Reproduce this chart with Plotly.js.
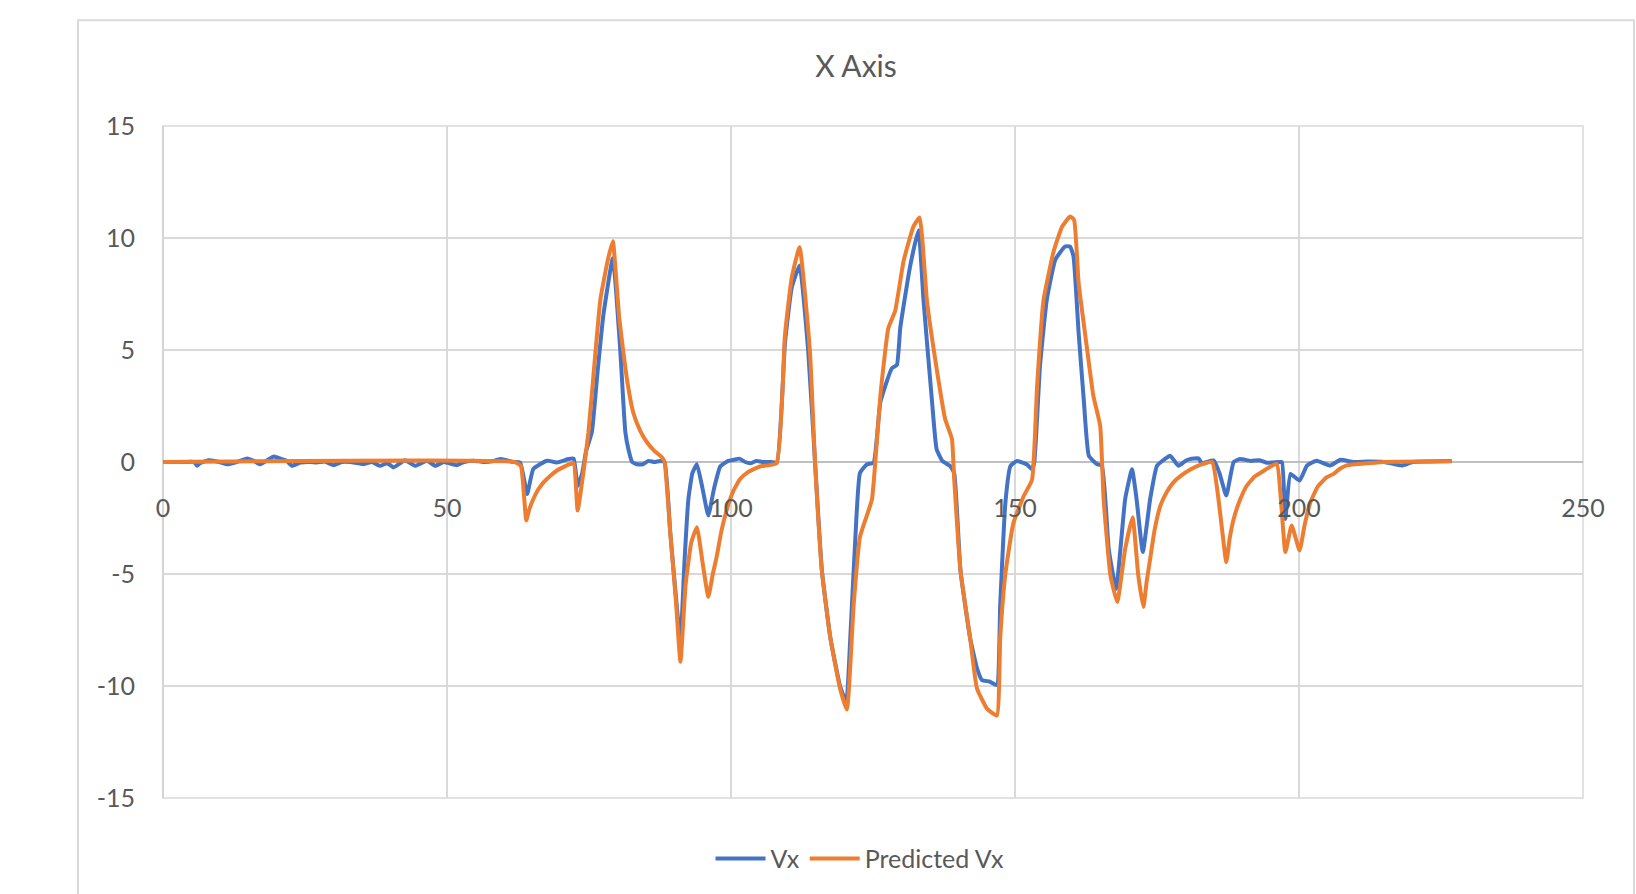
<!DOCTYPE html>
<html>
<head>
<meta charset="utf-8">
<script src="https://cdn.plot.ly/plotly-3.0.1.min.js"></script>
<style>html,body{margin:0;padding:0;background:#fff;}#chart{width:1636px;height:894px;}</style>
</head>
<body>
<div id="chart"></div>
<script>
// Series 1: Vx (measured)
const tVx = [0,2,4,5.5,6.0,6.5,8.0,9.5,11.25,13,14.8,16,17.1,18.5,19.5,20.9,21.8,22.7,24.2,26,27.1,28.5,30.0,31.5,33.0,35.3,36.8,38.2,39.5,40.6,42.6,44.4,46.5,47.9,49.4,51.7,53,54.7,56.4,58,59.4,61.7,62.9,64.1,65.2,67.6,69.3,71.4,72.3,73.0,73.8,74.5,75.5,76.5,77.5,79.2,80.5,81.4,82.0,82.6,83.5,84.5,85.5,86.5,87.5,88.3,89.3,90.3,91.1,91.8,92.5,93.2,94.0,95.0,96.0,97.0,98.1,99.5,100.5,101.5,102.5,103.5,104.5,105.5,107,108.07,109.5,110.7,112.07,113.6,114.8,116.0,117.5,119.2,120.3,121.0,121.9,122.7,123.9,125.1,126.3,128.3,129.2,129.8,131.5,133.0,133.9,135.4,136.2,137.2,138.6,139.3,140.4,142.1,143.3,144.2,145.5,146.8,147.4,148.3,149.2,150.3,152.1,153.0,153.4,154.4,155.6,157.1,158.8,159.7,160.3,161.2,162.1,163.0,164.4,165.3,166.5,167.8,169.4,170.6,171.4,172.5,173.8,175.0,176.2,177.3,178.8,180.0,180.8,182.3,182.9,185.0,186.0,187.2,188.5,189.6,191.5,193,194.3,196.4,197.0,197.6,198.5,200.1,201.4,203.1,205.5,207.3,209.6,212,215,218.1,220,223,226.9];
const vx = [0,0,0,0,-0.17,-0.05,0.08,0.02,-0.1,0.0,0.16,0.05,-0.1,0.1,0.25,0.13,0.05,-0.17,-0.02,0.0,-0.02,0.02,-0.14,0.0,0.0,-0.1,0.0,-0.17,-0.05,-0.24,0.08,-0.17,0.06,-0.17,0.0,-0.14,0.0,0.06,0.0,0.03,0.13,0.0,-0.03,-1.43,-0.31,0.06,-0.02,0.13,0.15,-1.08,-0.5,0.5,1.33,4.0,6.5,9.1,5.0,1.33,0.5,0.0,-0.1,-0.1,0.05,0.0,0.05,0.0,-3.13,-6.0,-8.03,-4.5,-1.65,-0.5,-0.1,-1.2,-2.39,-1.2,-0.2,0.05,0.1,0.15,0.0,-0.05,0.05,0.0,0.0,-0.03,5.3,7.8,8.77,4.93,-0.03,-4.85,-7.86,-10.0,-10.72,-7.86,-3.34,-0.49,-0.11,-0.03,2.67,4.18,4.33,5.98,8.69,10.35,7.19,2.67,0.57,0.05,-0.18,-0.5,-4.85,-7.86,-9.2,-9.74,-9.8,-9.96,-6.35,-1.84,-0.18,0.04,-0.11,-0.33,0.0,4.28,7.25,9.03,9.62,9.62,9.18,5.77,2.8,0.28,-0.09,-0.17,-3.88,-5.66,-1.65,-0.32,-1.65,-4.02,-1.65,-0.17,0.1,0.28,-0.17,0.05,0.13,0.16,-0.05,0.07,-0.5,-1.5,0.0,0.13,0.05,0.08,-0.03,0.0,0.0,-2.54,-0.53,-0.83,-0.16,0.06,-0.16,0.1,0.0,0.02,0.0,-0.16,0.0,0.02,0.05];

// Series 2: Predicted Vx
const tPred = [0,61.9,63.0,63.95,64.5,65.2,66,67,68.2,69.3,70.4,71.4,72.3,73.0,74.0,74.9,76.0,77.0,78.3,79.2,79.7,80.3,81.0,81.8,82.8,84.0,85.2,86.5,87.8,88.3,89.3,90.3,91.1,92.0,93.0,94.0,95.0,96.0,96.8,97.5,98.3,99.3,100.4,101.6,103,105.1,108.0,109.5,110.7,112.07,113.9,114.8,116.0,117.5,119.2,120.4,121.6,122.7,124.8,125.4,126.3,127.7,128.9,130.4,132.1,133.2,134.5,136.2,137.7,138.9,139.3,140.4,142.1,143.3,145.1,146.8,147.4,148.3,149.7,151.5,153.0,153.9,155.0,156.8,158.3,159.7,160.4,161.2,162.7,163.8,165.0,165.6,166.8,168.0,169.4,170.7,171.7,172.6,173.2,173.8,174.6,175.6,176.7,177.9,179.3,180.8,182.7,184.7,187.2,187.8,188.5,189.6,190.8,192.2,193.8,195,196.1,197.6,198.7,200.1,201,202.0,203.3,204.9,206.1,207.2,208.4,210,212.0,215,226.9];
const pred = [0,0,-0.17,-2.61,-2.1,-1.65,-1.25,-0.91,-0.61,-0.39,-0.24,-0.12,-0.05,-2.17,-0.5,1.33,4.5,7.25,9.0,9.85,8.5,6.5,5.0,3.5,2.2,1.4,0.88,0.5,0.22,0.0,-3.13,-6.2,-8.92,-5.5,-3.6,-2.91,-4.5,-6.02,-5.0,-4.2,-3.1,-2.09,-1.3,-0.76,-0.45,-0.2,-0.05,5.68,8.24,9.59,4.93,-0.03,-4.85,-7.86,-10.11,-11.05,-6.35,-3.34,-1.69,-0.03,2.97,5.98,6.74,8.99,10.5,10.92,7.19,4.18,1.92,1.02,-0.79,-4.85,-7.86,-10.11,-11.02,-11.32,-7.86,-5.0,-2.74,-1.54,-0.79,3.43,7.19,9.4,10.51,10.96,10.81,7.99,5.02,2.95,1.61,-1.65,-5.06,-6.25,-3.88,-2.47,-5.06,-6.47,-5.3,-4.32,-3.0,-1.95,-1.35,-0.91,-0.6,-0.35,-0.12,0.0,-4.47,-3.4,-2.54,-1.7,-1.06,-0.65,-0.39,-0.2,-0.09,-4.02,-2.83,-3.95,-2.8,-1.8,-1.1,-0.68,-0.53,-0.3,-0.15,-0.1,-0.06,0,0.03];

const seriesNames = ['Vx', 'Predicted Vx'];
const chartTitle = 'X Axis';
const xTicks = [0, 50, 100, 150, 200, 250];
const yTicks = [-15, -10, -5, 0, 5, 10, 15];

const FONT = 'Lato, "Open Sans", "Liberation Sans", sans-serif';
const TXT = '#595959';

const traces = [
  {x: tVx, y: vx, name: seriesNames[0], type: 'scatter', mode: 'lines',
   line: {color: '#4472C4', width: 4, shape: 'spline', smoothing: 0.4}},
  {x: tPred, y: pred, name: seriesNames[1], type: 'scatter', mode: 'lines',
   line: {color: '#ED7D31', width: 4, shape: 'spline', smoothing: 0.4}}
];

const L = 163, R = 53, T = 126, B = 94;
const PW = 1636 - L - R, PH = 894 - T - B;

const layout = {
  width: 1636, height: 894,
  margin: {l: L, r: R, t: T, b: B, pad: 0},
  paper_bgcolor: '#ffffff', plot_bgcolor: '#ffffff',
  font: {family: FONT, color: TXT, size: 25},
  title: {text: chartTitle, font: {family: FONT, size: 30, color: TXT},
          x: 856/1636, xanchor: 'center', xref: 'container',
          y: 1 - 66/894, yanchor: 'middle', yref: 'container'},
  xaxis: {range: [0, 250], tickvals: xTicks, ticktext: xTicks.map(String),
          showgrid: true, gridcolor: '#d9d9d9', gridwidth: 1.5,
          zeroline: false, showline: false,
          anchor: 'free', position: 0.5,
          ticks: 'outside', ticklen: 24, tickcolor: 'rgba(0,0,0,0)',
          tickfont: {family: FONT, size: 25, color: TXT}, fixedrange: true},
  yaxis: {range: [-15, 15], tickvals: yTicks, ticktext: yTicks.map(String),
          showgrid: true, gridcolor: '#d9d9d9', gridwidth: 1.5,
          zeroline: true, zerolinecolor: '#bfbfbf', zerolinewidth: 1.5,
          showline: false,
          ticks: 'outside', ticklen: 22, tickcolor: 'rgba(0,0,0,0)',
          tickfont: {family: FONT, size: 25, color: TXT}, fixedrange: true},
  showlegend: true,
  legend: {orientation: 'h', x: (860 - L)/PW, xanchor: 'center',
           y: (800 - 861)/PH, yanchor: 'middle',
           font: {family: FONT, size: 25, color: TXT}, bgcolor: 'rgba(0,0,0,0)',
           itemwidth: 50},
  shapes: [
    {type: 'rect', xref: 'paper', yref: 'paper',
     x0: (78 - L)/PW, x1: (1634 - L)/PW, y0: (800 - 900)/PH, y1: (800 - 20)/PH,
     line: {color: '#d9d9d9', width: 2}, fillcolor: 'rgba(0,0,0,0)', layer: 'below'},
    {type: 'rect', xref: 'paper', yref: 'paper', x0: 0, x1: 1, y0: 0, y1: 1,
     line: {color: '#d9d9d9', width: 1.5}, fillcolor: 'rgba(0,0,0,0)', layer: 'below'},
    {type: 'line', xref: 'paper', yref: 'paper', x0: 0, x1: 0, y0: 0, y1: 1,
     line: {color: '#cfcfcf', width: 1.5}, layer: 'below'}
  ]
};

Plotly.newPlot('chart', traces, layout, {displayModeBar: false, staticPlot: true});
</script>
</body>
</html>
